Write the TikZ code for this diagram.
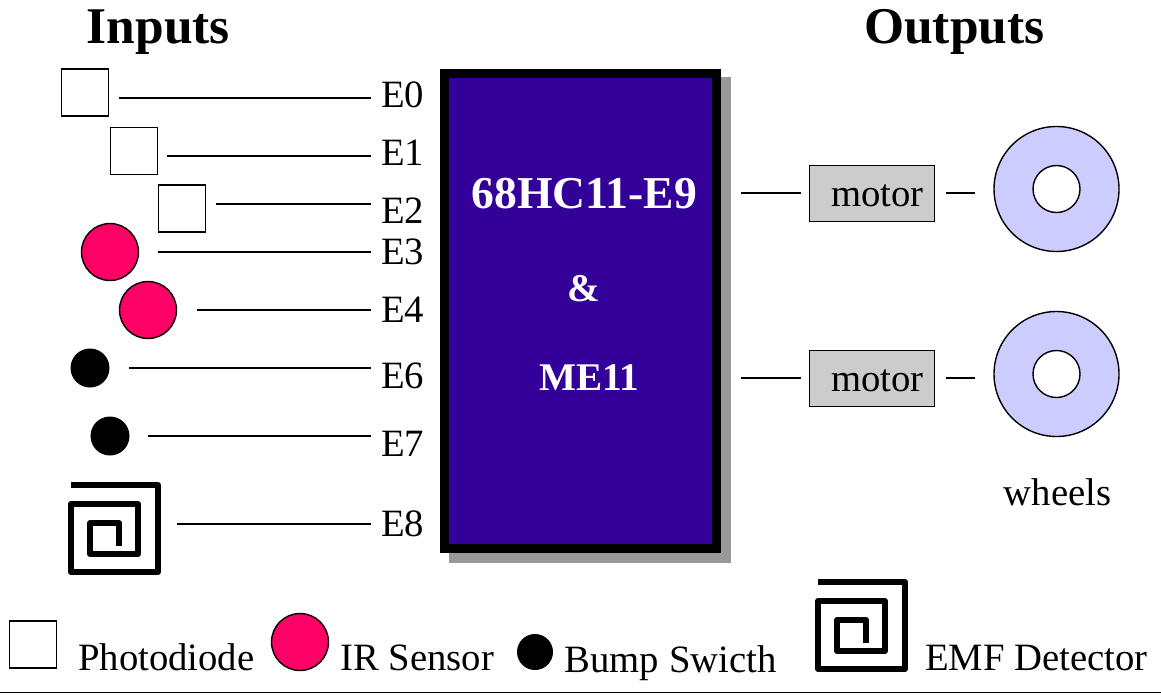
\documentclass[tikz,border=0pt]{standalone}
\usepackage{fontspec}
\setmainfont{Liberation Serif}
\definecolor{chip}{HTML}{330099}
\definecolor{shadowgray}{HTML}{999999}
\definecolor{sensor}{HTML}{FF0066}
\definecolor{wheelc}{HTML}{CCCCFF}
\definecolor{motorc}{HTML}{CCCCCC}
\newcommand{\spiral}[2]{%
\begin{scope}[shift={(#1,#2)}]
\draw[spiralline] (71,485) -- (158,485) -- (158,572) -- (71,572) -- (71,504) -- (138,504) -- (138,554) -- (90,554) -- (90,523) -- (119,523) -- (119,546);
\end{scope}}
\tikzset{
 x=1pt,y=-1pt,
 txt/.style={font=\fontsize{38.7}{40}\selectfont,inner sep=0pt,anchor=base west},
 head/.style={font=\fontsize{51.5}{53}\selectfont\bfseries,inner sep=0pt,anchor=base west},
 chiptxt/.style={font=\fontsize{39.2}{41}\selectfont\bfseries,text=white,inner sep=0pt,anchor=base west},
 wire/.style={line width=1.4pt,black},
 photo/.style={draw=black,fill=white,line width=1.4pt,minimum size=47pt,inner sep=0pt,shape=rectangle},
 ir/.style={draw=black,fill=sensor,line width=1.4pt,circle,minimum size=57pt,inner sep=0pt},
 bump/.style={fill=black,circle,minimum size=39pt,inner sep=0pt},
 motorbox/.style={draw=black,fill=motorc,line width=1.4pt,minimum width=125pt,minimum height=56pt,inner sep=0pt},
 wheelout/.style={draw=black,fill=wheelc,line width=1.4pt,circle,minimum size=125pt,inner sep=0pt},
 wheelin/.style={draw=black,fill=white,line width=1.4pt,circle,minimum size=47pt,inner sep=0pt},
 spiralline/.style={line width=6.2pt,black,line join=round,line cap=butt},
}
\begin{document}
\begin{tikzpicture}
\useasboundingbox (0,0) rectangle (1161,694);
% headings
\node[head] (inputs) at (86.5,43) {Inputs};
\node[head] (outputs) at (864,43) {Outputs};
% chip
\fill[shadowgray] (449,77) rectangle (731,563);
\node[draw=black,fill=chip,line width=9pt,minimum width=272pt,minimum height=475pt,inner sep=0pt] (chip) at (580.5,310.5) {};
\node[chiptxt,font=\fontsize{45.6}{47}\selectfont\bfseries] (t1) at (471.5,208) {68HC11-E9};
\node[chiptxt] (t2) at (567.5,301) {\&};
\node[chiptxt] (t3) at (539,390) {ME11};
% sensors
\node[photo] (p0) at (85,92.5) {};
\node[photo] (p1) at (134,151) {};
\node[photo] (p2) at (182,208.5) {};
\node[ir] (s3) at (110,252) {};
\node[ir] (s4) at (148,310) {};
\node[bump] (b6) at (90,368) {};
\node[bump] (b7) at (110,436) {};
\spiral{0}{0}
% labels
\node[txt] (e0) at (381,107) {E0};
\node[txt] (e1) at (381,165) {E1};
\node[txt] (e2) at (381,223) {E2};
\node[txt] (e3) at (381,264) {E3};
\node[txt] (e4) at (381,322) {E4};
\node[txt] (e6) at (381,388) {E6};
\node[txt] (e7) at (381,456) {E7};
\node[txt] (e8) at (381,536) {E8};
% wire ends
\coordinate (c0a) at (119,98); \coordinate (c0b) at (371,98);
\coordinate (c1a) at (167,156); \coordinate (c1b) at (371,156);
\coordinate (c2a) at (216,204); \coordinate (c2b) at (371,204);
\coordinate (c3a) at (158,252); \coordinate (c3b) at (371,252);
\coordinate (c4a) at (197,310); \coordinate (c4b) at (371,310);
\coordinate (c6a) at (129,368); \coordinate (c6b) at (371,368);
\coordinate (c7a) at (148,436); \coordinate (c7b) at (371,436);
\coordinate (c8a) at (177,524); \coordinate (c8b) at (371,524);
\draw[wire] (c0a) -- (c0b);
\draw[wire] (c1a) -- (c1b);
\draw[wire] (c2a) -- (c2b);
\draw[wire] (c3a) -- (c3b);
\draw[wire] (c4a) -- (c4b);
\draw[wire] (c6a) -- (c6b);
\draw[wire] (c7a) -- (c7b);
\draw[wire] (c8a) -- (c8b);
% motors
\node[motorbox] (m1) at (872,193.5) {};
\node[motorbox] (m2) at (872,378.5) {};
\node[txt] (m1t) at (831,206) {motor};
\node[txt] (m2t) at (831,391) {motor};
\node[wheelout] (w1) at (1056.5,189) {};
\node[wheelin] (h1) at (1056.5,189) {};
\node[wheelout] (w2) at (1056.5,374) {};
\node[wheelin] (h2) at (1056.5,374) {};
\coordinate (o1a) at (741,193); \coordinate (o1b) at (801,193);
\coordinate (o1c) at (946,193); \coordinate (o1d) at (975,193);
\coordinate (o2a) at (741,378); \coordinate (o2b) at (801,378);
\coordinate (o2c) at (946,378); \coordinate (o2d) at (975,378);
\draw[wire] (o1a) -- (o1b);
\draw[wire] (o1c) -- (o1d);
\draw[wire] (o2a) -- (o2b);
\draw[wire] (o2c) -- (o2d);
\node[txt] (wh) at (1003.5,505) {wheels};
% legend
\node[photo] (lp) at (33,644.5) {};
\node[txt] (lpt) at (78,670) {Photodiode};
\node[ir] (li) at (300,642) {};
\node[txt] (lit) at (340,670) {IR Sensor};
\node[bump,minimum size=36pt] (lb) at (535,652) {};
\node[txt] (lbt) at (564.5,672) {Bump Swicth};
\spiral{747}{97}
\node[txt] (let) at (925,670) {EMF Detector};
% rule
\coordinate (ra) at (0,692.5); \coordinate (rb) at (1161,692.5);
\draw[line width=1.4pt] (ra) -- (rb);
\end{tikzpicture}
\end{document}
